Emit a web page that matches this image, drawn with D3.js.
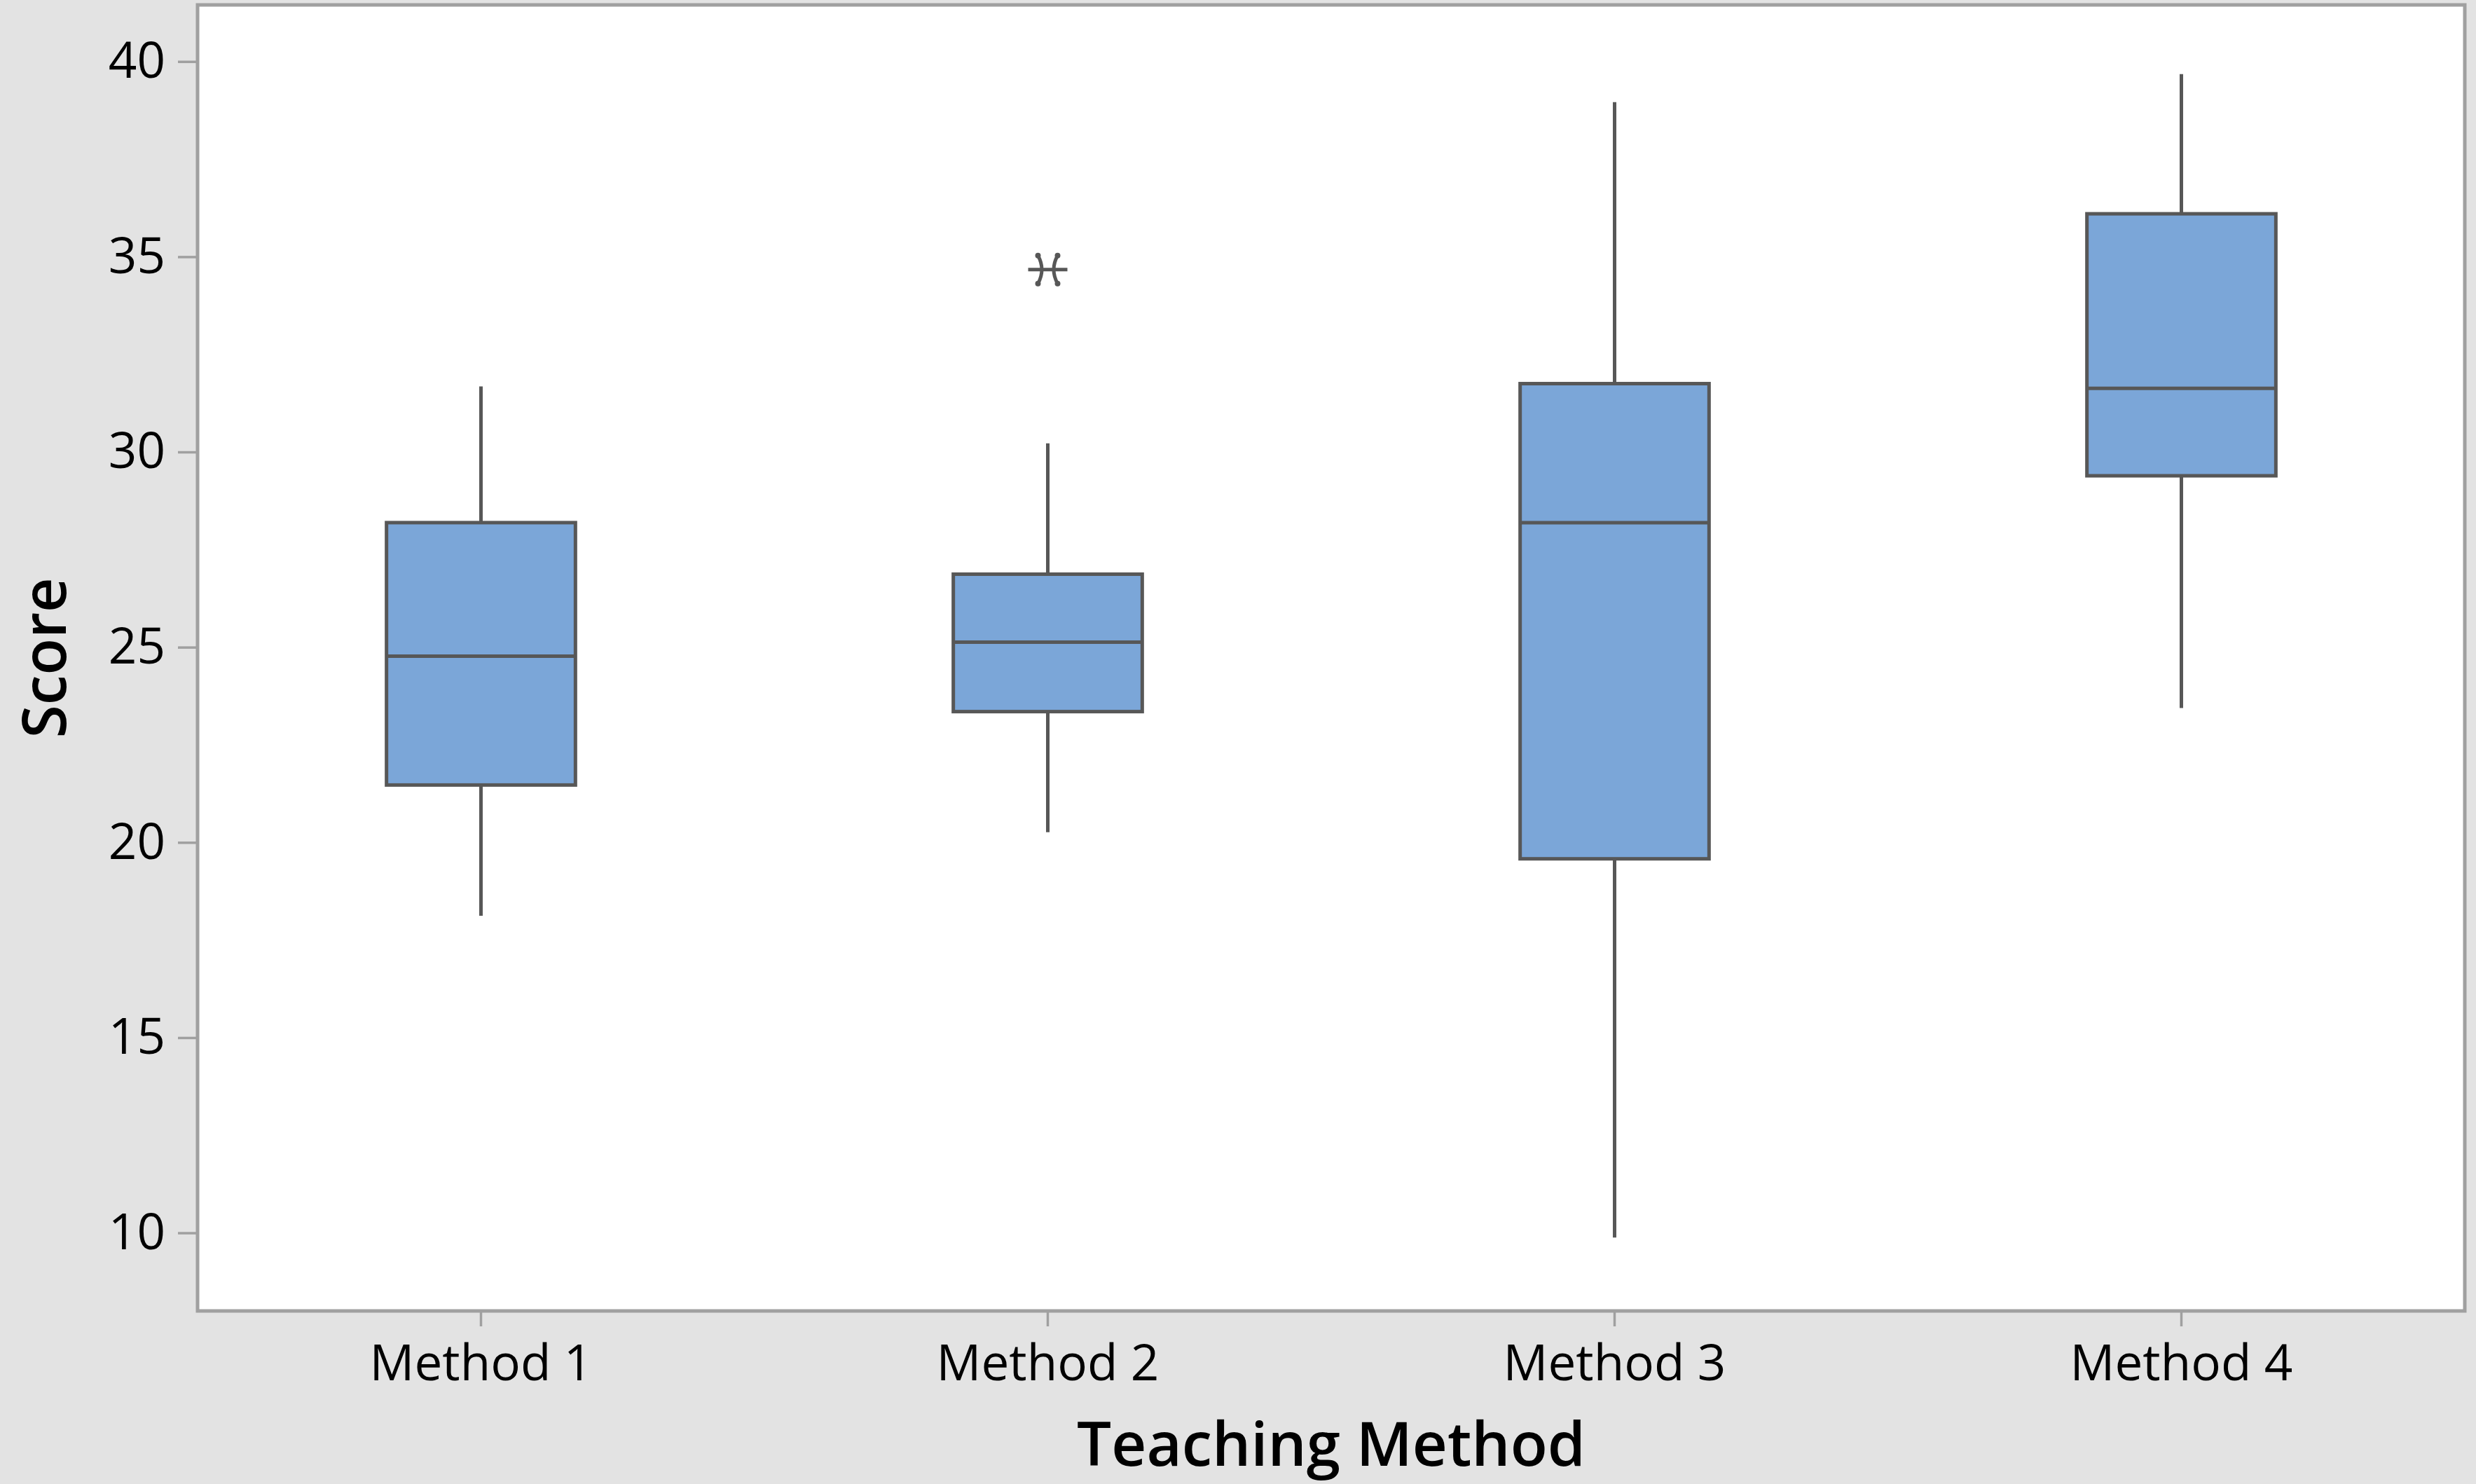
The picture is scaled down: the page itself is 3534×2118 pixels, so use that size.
<!DOCTYPE html>
<html>
<head>
<meta charset="utf-8">
<script src="https://cdn.jsdelivr.net/npm/d3@7"></script>
<style>
  html, body { margin: 0; padding: 0; background: #e3e3e3; }
  svg { display: block; font-family: "Open Sans", "Noto Sans", sans-serif; }
</style>
</head>
<body>
<div id="chart"></div>
<script>
// values
const methods = ['Method 1', 'Method 2', 'Method 3', 'Method 4'];
const whiskerLow = [18.12, 20.26, 9.88, 23.44];
const q1 = [21.47, 23.35, 19.58, 29.39];
const median = [24.77, 25.13, 28.19, 31.63];
const q3 = [28.19, 26.87, 31.75, 36.1];
const whiskerHigh = [31.68, 30.22, 38.96, 39.68];
const outliers = [{method: 'Method 2', value: 34.67}];
const yTicks = [10, 15, 20, 25, 30, 35, 40];

let width = 3534;
let height = 2118;
let plot = {left: 282, right: 3518, top: 7, bottom: 1871};
let boxStroke = '#575757';
let boxFill = '#7ba6d8';
let frameColor = '#a0a0a0';

let svg = d3.select('#chart')
.append('svg')
.attr('width', width)
.attr('height', height);

svg.append('rect')
.attr('width', width)
.attr('height', height)
.attr('fill', '#e3e3e3');

let x = d3.scaleBand()
.domain(methods)
.range([plot.left, plot.right])
.padding(0);

let y = d3.scaleLinear()
.domain([8.0, 41.45])
.range([plot.bottom, plot.top]);

// white data region
svg.append('rect')
.attr('x', plot.left)
.attr('y', plot.top)
.attr('width', plot.right - plot.left)
.attr('height', plot.bottom - plot.top)
.attr('fill', '#ffffff');

let boxW = x.bandwidth() / 3;
let cx = function(i) { return x(methods[i]) + x.bandwidth() / 2; };
let idx = d3.range(methods.length);

let boxes = svg.append('g').attr('class', 'boxes');

// whiskers
boxes.selectAll('line.whisker-hi')
.data(idx)
.enter()
.append('line')
.attr('x1', cx).attr('x2', cx)
.attr('y1', function(i) { return y(q3[i]); })
.attr('y2', function(i) { return y(whiskerHigh[i]); })
.attr('stroke', boxStroke)
.attr('stroke-width', 5);

boxes.selectAll('line.whisker-lo')
.data(idx)
.enter()
.append('line')
.attr('x1', cx).attr('x2', cx)
.attr('y1', function(i) { return y(q1[i]); })
.attr('y2', function(i) { return y(whiskerLow[i]); })
.attr('stroke', boxStroke)
.attr('stroke-width', 5);

// IQR boxes
boxes.selectAll('rect.iqr')
.data(idx)
.enter()
.append('rect')
.attr('x', function(i) { return cx(i) - boxW / 2; })
.attr('y', function(i) { return y(q3[i]); })
.attr('width', boxW)
.attr('height', function(i) { return y(q1[i]) - y(q3[i]); })
.attr('fill', boxFill)
.attr('stroke', boxStroke)
.attr('stroke-width', 5);

// medians
boxes.selectAll('line.median')
.data(idx)
.enter()
.append('line')
.attr('x1', function(i) { return cx(i) - boxW / 2; })
.attr('x2', function(i) { return cx(i) + boxW / 2; })
.attr('y1', function(i) { return y(median[i]); })
.attr('y2', function(i) { return y(median[i]); })
.attr('stroke', boxStroke)
.attr('stroke-width', 5);

// outlier asterisks (Minitab style)
let star = 'M-28,0H28M-14,-20Q-3,0 -14,20M14,-20Q3,0 14,20';
let out = svg.append('g').selectAll('g.outlier')
.data(outliers)
.enter()
.append('g')
.attr('transform', function(d) {
  return 'translate(' + (x(d.method) + x.bandwidth() / 2) + ',' + y(d.value) + ')';
});
out.append('path')
.attr('d', star)
.attr('fill', 'none')
.attr('stroke', boxStroke)
.attr('stroke-width', 5);
out.selectAll('circle')
.data([[-14, -20], [14, -20], [-14, 20], [14, 20]])
.enter()
.append('circle')
.attr('cx', function(p) { return p[0]; })
.attr('cy', function(p) { return p[1]; })
.attr('r', 4)
.attr('fill', boxStroke);

// frame
svg.append('rect')
.attr('x', plot.left)
.attr('y', plot.top)
.attr('width', plot.right - plot.left)
.attr('height', plot.bottom - plot.top)
.attr('fill', 'none')
.attr('stroke', frameColor)
.attr('stroke-width', 5);

// axes
let yAxis = svg.append('g')
.attr('transform', 'translate(' + plot.left + ',0)')
.call(d3.axisLeft(y).tickValues(yTicks).tickSize(28).tickPadding(18));

let xAxis = svg.append('g')
.attr('transform', 'translate(0,' + plot.bottom + ')')
.call(d3.axisBottom(x).tickSize(22).tickPadding(27));

[yAxis, xAxis].forEach(function(ax) {
  ax.select('.domain').remove();
  ax.selectAll('.tick line').attr('stroke', frameColor).attr('stroke-width', 3.5);
  ax.selectAll('.tick text')
  .attr('fill', '#000')
  .style('font-size', '71px')
  .style('font-weight', 500)
  .style('font-family', '"Open Sans", "Noto Sans", sans-serif');
});

// axis titles
svg.append('text')
.attr('x', (plot.left + plot.right) / 2)
.attr('y', 2092)
.attr('text-anchor', 'middle')
.style('font-size', '87px')
.style('font-weight', 600)
.attr('fill', '#000')
.text('Teaching Method');

svg.append('text')
.attr('transform', 'translate(94,' + ((plot.top + plot.bottom) / 2) + ') rotate(-90)')
.attr('text-anchor', 'middle')
.style('font-size', '86px')
.style('font-weight', 600)
.attr('fill', '#000')
.text('Score');
</script>
</body>
</html>
